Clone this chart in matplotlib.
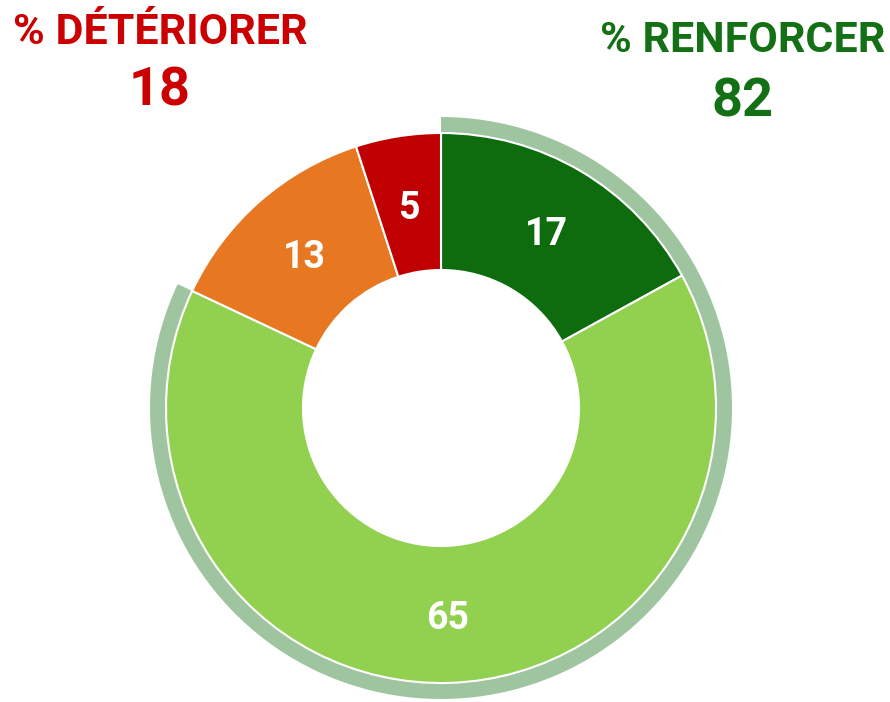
import matplotlib
matplotlib.use("Agg")
import matplotlib.pyplot as plt
from matplotlib import font_manager

# share of answers, clockwise from 12 o'clock
categories = ["Renforcer beaucoup", "Renforcer un peu", "Détériorer un peu", "Détériorer beaucoup"]
values = [17, 65, 13, 5]
colors = ["#0e6b0e", "#92d050", "#e87722", "#c00000"]

# headline totals
total_labels = ["% DÉTÉRIORER", "% RENFORCER"]
totals = [18, 82]
total_colors = ["#cc0000", "#147014"]

ring_color = "#9fc5a0"

names = {f.name for f in font_manager.fontManager.ttflist}
font = "Liberation Sans Narrow" if "Liberation Sans Narrow" in names else "Roboto"
plt.rcParams["font.family"] = [font, "DejaVu Sans"]

fig = plt.figure(figsize=(8.9, 7.02), dpi=100)
ax = fig.add_axes([0, 0, 1, 1])

cx, cy = 441, 294
r_out, r_in = 275, 138

# outer band around the "renforcer" share
ax.pie([totals[1], totals[0]], radius=291, center=(cx, cy), startangle=90,
       counterclock=False, colors=[ring_color, "none"],
       wedgeprops=dict(width=291 - r_out, edgecolor="none", linewidth=0))

wedges, _, autotexts = ax.pie(
    values, radius=r_out, center=(cx, cy), startangle=90, counterclock=False,
    colors=colors, autopct=lambda p: f"{p:.0f}", pctdistance=(r_out + r_in) / 2 / r_out,
    wedgeprops=dict(width=r_out - r_in, edgecolor="white", linewidth=1.5),
    textprops=dict(color="white", fontsize=27, fontweight="bold"))

# nudge the numbers a little below the ring's mid line
for t in autotexts:
    x, y = t.get_position()
    t.set_position((x, y - 4))

ax.text(160, 702 - 32, total_labels[0], color=total_colors[0], fontsize=31,
        fontweight="bold", ha="center", va="center")
ax.text(160, 702 - 91, str(totals[0]), color=total_colors[0], fontsize=39,
        fontweight="bold", ha="center", va="center")
ax.text(743, 702 - 41, total_labels[1], color=total_colors[1], fontsize=31,
        fontweight="bold", ha="center", va="center")
ax.text(743, 702 - 102, str(totals[1]), color=total_colors[1], fontsize=39,
        fontweight="bold", ha="center", va="center")

ax.set_xlim(0, 890)
ax.set_ylim(0, 702)
ax.set_aspect("equal")
ax.axis("off")

fig.savefig("out.png", dpi=100, facecolor="white")
